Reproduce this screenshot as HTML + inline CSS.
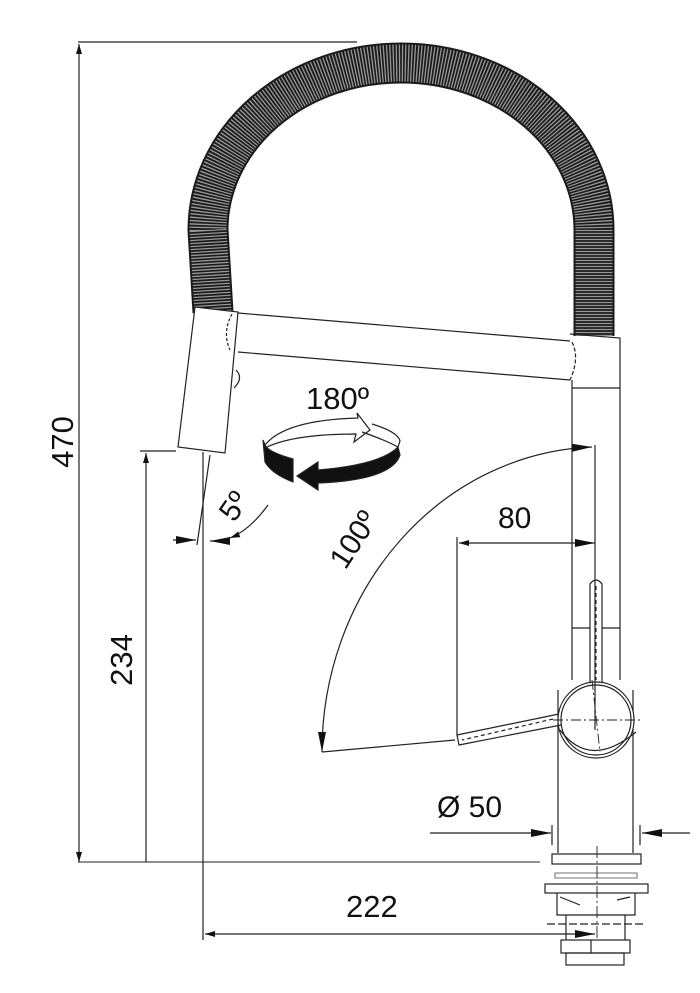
<!DOCTYPE html>
<html><head><meta charset="utf-8"><style>
html,body{margin:0;padding:0;background:#fff;}
svg{display:block;}
text{font-family:"Liberation Sans",Arial,sans-serif;fill:#111;}
</style></head><body>
<svg width="700" height="993" viewBox="0 0 700 993" xmlns="http://www.w3.org/2000/svg">
<defs>
<marker id="a" viewBox="0 0 10 6" refX="10" refY="3" markerWidth="10" markerHeight="6" orient="auto-start-reverse" markerUnits="userSpaceOnUse"><path d="M0,0 L10,3 L0,6 Z" fill="#111"/></marker>
<marker id="b" viewBox="0 0 20 8" refX="20" refY="4" markerWidth="20" markerHeight="8" orient="auto-start-reverse" markerUnits="userSpaceOnUse"><path d="M0,0 L20,4 L0,8 Z" fill="#111"/></marker>
</defs>
<g fill="none" stroke="#222" stroke-width="1.2">
<!-- hose -->
<path d="M213 312 L208 230 A193 167 0 0 1 594 230 L594 336" stroke="#1a1a1a" stroke-width="41"/>
<path d="M213 312 L208 230 A193 167 0 0 1 594 230 L594 336" stroke="#fff" stroke-width="37" stroke-dasharray="1.3 1.7" opacity="0.55"/>
<!-- spray head -->
<path d="M195 307 L238 312 L225 453 L178 447 Z" fill="#fff"/>
<path d="M236 370 q8 8 -2 18" />
<path d="M232 314 q-10 18 -2 36" stroke-dasharray="3 2"/>
<!-- arm -->
<path d="M238 313 L570 341 M238 352 L570 380" />
<path d="M572 342 q8 16 -2 38" stroke-dasharray="4 2"/>
<!-- body -->
<path d="M570 334 L620 338 L620 390 M572 388 L620 388 M572 380 L572 680 M620 338 L620 680 M572 628 L620 628"/>
<path d="M558 690 L558 853 M633 690 L633 853"/>
<!-- handle up -->
<path d="M590 682 L590 584 q6 -8 12 0 L602 682" fill="#fff"/>
<path d="M596 586 L596 680" stroke-dasharray="4 3"/>
<circle cx="596" cy="720" r="38" fill="#fff"/>
<circle cx="596" cy="720" r="35"/>
<path d="M560 730 q30 40 76 2" />
<path d="M553 720 L640 720 M592 680 L600 752" stroke-dasharray="10 3 2 3" stroke-width="0.9"/>
<!-- handle down -->
<path d="M559 714 L457 735 L459 745 L561 725" />
<path d="M553 719 L462 740" stroke-dasharray="4 3"/>
<!-- base -->
<rect x="552" y="854" width="89" height="10" />
<rect x="555" y="873" width="82" height="5" stroke="#888"/>
<rect x="545" y="884" width="103" height="9" />
<path d="M557 893 L557 915 L635 915 L635 893 M560 897 L580 905 M617 900 L630 897"/>
<path d="M547 924 L645 924" stroke-dasharray="8 3"/>
<path d="M566 915 L566 940 M625 915 L625 940"/>
<rect x="561" y="940" width="69" height="13"/>
<rect x="566" y="953" width="58" height="12"/>
<path d="M591 940 L591 953"/>
<path d="M597 846 L597 940" stroke-dasharray="12 3 2 3" stroke-width="0.9"/>
<!-- dimensions -->
<path d="M78 42 L357 42"/>
<path d="M79 862 L79 44" marker-end="url(#a)" marker-start="url(#a)"/>
<path d="M78 862 L540 862" stroke-width="1"/>
<path d="M140 451 L176 451"/>
<path d="M146 862 L146 453" marker-end="url(#a)"/>
<path d="M203 452 L203 940"/>
<path d="M205 934 L595 934" marker-end="url(#b)" marker-start="url(#a)"/>
<!-- 5 deg -->
<path d="M210 455 L197 545"/>
<path d="M173 540 L196 540" marker-end="url(#b)"/>
<path d="M268 505 Q250 530 230 538" marker-end="url(#a)"/>
<path d="M228 541 L210 541" marker-end="url(#b)"/>
<!-- 80 -->
<path d="M457 537 L457 735 M595 445 L595 730"/>
<path d="M459 543 L595 543" marker-start="url(#a)" marker-end="url(#b)"/>
<!-- 100 -->
<path d="M322 752 A280 305 0 0 1 592 447" marker-end="url(#b)"/>
<path d="M322 720 L322 752" marker-end="url(#b)" stroke-width="0"/>
<path d="M322 752 L455 740"/>
<!-- Ø50 -->
<path d="M430 833 L551 833" marker-end="url(#b)"/>
<path d="M690 833 L642 833" marker-end="url(#b)"/>
<path d="M552 825 L552 845 M640 825 L640 845"/>
<!-- rotation icon -->
<path d="M265 445 Q285 420 358 418 L357 413 L370 430 L354 442 L356 434 Q295 434 267 447"/>
<path d="M372 424 Q398 432 400 441 L398 447 Q385 440 362 432"/>
<path d="M263 440 L265 462 Q272 474 293 482 L293 459 Q268 452 265 445 Z" fill="#111"/>
<path d="M398 447 Q380 465 318 470 L318 462 L297 476 L318 490 L318 483 Q392 480 400 455 Z" fill="#111"/>
</g>
<text x="306" y="409" font-size="31">180º</text>
<text x="498" y="528" font-size="30">80</text>
<text x="437" y="817" font-size="30">Ø 50</text>
<text x="346" y="917" font-size="31">222</text>
<text transform="translate(73 442) rotate(-90)" font-size="31" text-anchor="middle">470</text>
<text transform="translate(132 660) rotate(-90)" font-size="31" text-anchor="middle">234</text>
<text transform="translate(242 512) rotate(-55)" font-size="30" text-anchor="middle">5º</text>
<text transform="translate(362 545) rotate(-57)" font-size="30" text-anchor="middle">100º</text>
</svg>
</body></html>
